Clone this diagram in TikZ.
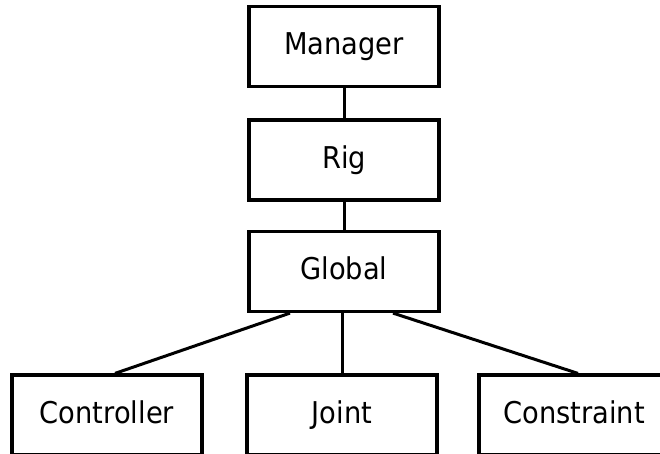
\documentclass[tikz,border=0pt]{standalone}
\usepackage{fontspec}
\setmainfont{DejaVu Sans}[FakeStretch=0.91]
\begin{document}
\begin{tikzpicture}[x=1pt,y=-1pt,
  box/.style={draw, line width=3.2pt, minimum width=190pt, minimum height=80pt,
    inner sep=0pt, text height=16pt, text depth=0pt,
    font=\fontsize{30}{33}\selectfont},
  link/.style={line width=3pt}]
\useasboundingbox (0,0) rectangle (660,453);
\clip (0,0) rectangle (660,453);
% hierarchy column
\node[box] (mgr) at (344,46.5) {Manager};
\node[box] (rig) at (344,160) {Rig};
\node[box] (glb) at (344,271.5) {Global};
% bottom row
\node[box] (ctl) at (107,415) {Controller};
\node[box] (jnt) at (342,415) {Joint};
\node[box] (cns) at (574,415) {Constraint};
% connectors
\draw[link] (mgr.south) -- (rig.north);
\draw[link] (rig.south) -- (glb.north);
\draw[link] ([xshift=-54pt]glb.south) -- ([xshift=8pt]ctl.north);
\draw[link] ([xshift=-2pt]glb.south) -- (jnt.north);
\draw[link] ([xshift=49pt]glb.south) -- ([xshift=4pt]cns.north);
\end{tikzpicture}
\end{document}
